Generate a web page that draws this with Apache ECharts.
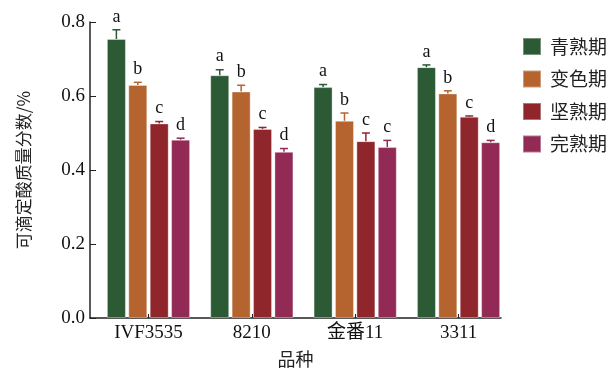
<!DOCTYPE html>
<html>
<head>
<meta charset="utf-8">
<script src="https://cdn.jsdelivr.net/npm/echarts@6/dist/echarts.min.js"></script>
<style>html,body{margin:0;padding:0;background:#fff}#c{width:611px;height:373px}</style>
</head>
<body>
<div id="c"></div>
<script>
const categories = ['IVF3535', '8210', '金番11', '3311'];
const stages = ['青熟期', '变色期', '坚熟期', '完熟期'];
const means = [
  [0.754, 0.656, 0.624, 0.678],
  [0.630, 0.612, 0.533, 0.607],
  [0.526, 0.511, 0.478, 0.544],
  [0.482, 0.449, 0.462, 0.475]
];
const errors = [
  [0.025, 0.015, 0.007, 0.006],
  [0.007, 0.017, 0.021, 0.007],
  [0.005, 0.004, 0.022, 0.002],
  [0.004, 0.009, 0.018, 0.005]
];
const letters = [
  ['a', 'a', 'a', 'a'],
  ['b', 'b', 'b', 'b'],
  ['c', 'c', 'c', 'c'],
  ['d', 'd', 'c', 'd']
];
const yTicks = [0, 0.2, 0.4, 0.6, 0.8];

const colors = ['#2b5a35', '#b5642f', '#8f262b', '#932a56'];
const BAR_W = 19, GAP = 2.4;
const serif = 'Liberation Serif, "Times New Roman", "Noto Sans CJK SC", serif';
const cjk = '"Noto Sans CJK SC", sans-serif';

const chart = echarts.init(document.getElementById('c'));
const series = [];
stages.forEach((s, si) => {
  series.push({
    name: s,
    type: 'bar',
    barWidth: BAR_W,
    barGap: (GAP / BAR_W * 100) + '%',
    itemStyle: { color: colors[si], borderColor: 'rgba(255,255,255,0.35)', borderWidth: 1 },
    data: categories.map((c, ci) => [ci, means[si][ci]])
  });
});
stages.forEach((s, si) => {
  series.push({
    type: 'custom',
    silent: true,
    z: 5,
    renderItem: function (params, api) {
      const ci = api.value(0), m = api.value(1), e = api.value(2);
      const off = (si - 1.5) * (BAR_W + GAP);
      const pTop = api.coord([ci, m + e]);
      const pMid = api.coord([ci, m]);
      const x = pTop[0] + off;
      return {
        type: 'group',
        children: [
          { type: 'line', shape: { x1: x, y1: pMid[1], x2: x, y2: pTop[1] }, style: { stroke: colors[si], lineWidth: 1.5 } },
          { type: 'line', shape: { x1: x - 4, y1: pTop[1], x2: x + 4, y2: pTop[1] }, style: { stroke: colors[si], lineWidth: 1.5 } },
          { type: 'text', x: x, y: pTop[1] - 4, style: { text: letters[si][ci], fill: '#111', font: '18px ' + serif, align: 'center', verticalAlign: 'bottom' } }
        ]
      };
    },
    data: categories.map((c, ci) => [ci, means[si][ci], errors[si][ci]])
  });
});

chart.setOption({
  animation: false,
  color: colors,
  grid: { left: 90, right: 110, top: 22, bottom: 50 },
  legend: {
    data: stages,
    orient: 'vertical',
    left: 517, top: 32,
    itemWidth: 18, itemHeight: 17, itemGap: 13.5,
    icon: 'rect',
    textStyle: { fontFamily: cjk, fontSize: 19, lineHeight: 19, color: '#222', padding: [0, 0, 0, 4] }
  },
  xAxis: {
    type: 'value',
    min: -0.566, max: 3.411,
    name: '品种',
    nameLocation: 'middle',
    nameGap: 32,
    nameTextStyle: { fontFamily: cjk, fontSize: 18, color: '#222' },
    axisLine: { onZero: false, lineStyle: { color: '#222', width: 1.5 } },
    axisTick: { inside: true, length: 4, customValues: [0, 1, 2, 3], lineStyle: { color: '#222' } },
    axisLabel: { customValues: [0, 1, 2, 3], formatter: v => categories[Math.round(v)], fontFamily: serif, fontSize: 19, color: '#111', margin: 6 },
    splitLine: { show: false }
  },
  yAxis: {
    type: 'value',
    min: 0, max: 0.8, interval: 0.2,
    name: '可滴定酸质量分数/%',
    nameLocation: 'middle',
    nameGap: 58,
    nameTextStyle: { fontFamily: cjk, fontSize: 17, color: '#222' },
    axisLine: { show: true, onZero: false, lineStyle: { color: '#222', width: 1.5 } },
    axisTick: { show: true, inside: true, length: 6, lineStyle: { color: '#222' } },
    axisLabel: { formatter: v => v.toFixed(1), fontFamily: serif, fontSize: 19, color: '#111', margin: 5 },
    splitLine: { show: false }
  },
  series: series
});
</script>
</body>
</html>
